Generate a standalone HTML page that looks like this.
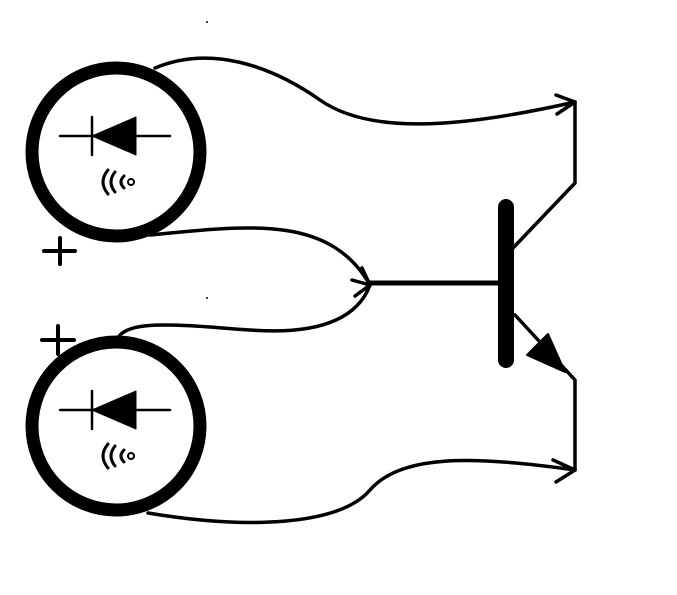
<!DOCTYPE html>
<html><head><meta charset="utf-8"><style>html,body{margin:0;padding:0;background:#fff}svg{display:block}</style></head>
<body>
<svg width="677" height="595" viewBox="0 0 677 595" xmlns="http://www.w3.org/2000/svg">
<rect width="677" height="595" fill="#fff"/>
<g fill="none" stroke="#000" stroke-linecap="round" stroke-linejoin="round">
  <g>
    <circle cx="116" cy="152" r="84" stroke-width="13"/>
    <line x1="60" y1="136" x2="170" y2="136" stroke-width="2.5"/>
    <line x1="92" y1="117" x2="92" y2="155" stroke-width="2.5"/>
    <polygon points="92,136 136,117 136,155" fill="#000" stroke-width="1"/>
    <path d="M108,170 Q98,182 108,194 M115,172 Q107,182 115,192 M124,176 Q118,182 124,188" stroke-width="3"/>
    <circle cx="131" cy="182" r="3" stroke-width="2"/>
  </g>
  <g>
    <circle cx="116" cy="426" r="84" stroke-width="13"/>
    <line x1="60" y1="410" x2="170" y2="410" stroke-width="2.5"/>
    <line x1="92" y1="391" x2="92" y2="429" stroke-width="2.5"/>
    <polygon points="92,410 136,391 136,429" fill="#000" stroke-width="1"/>
    <path d="M108,444 Q98,456 108,468 M115,446 Q107,456 115,466 M124,450 Q118,456 124,462" stroke-width="3"/>
    <circle cx="131" cy="456" r="3" stroke-width="2"/>
  </g>
  <g stroke-width="4">
    <path d="M44,251 H75 M60,238 V264"/>
    <path d="M42,340 H74 M58,326 V354"/>
  </g>
  <g stroke-width="3.5">
    <path d="M155,68 C210,45 270,65 320,100 C370,135 460,128 575,102"/>
    <path d="M556,95 L575,102 L557,114"/>
    <path d="M150,235 C250,225 330,215 370,285"/>
    <path d="M118,338 C128,318 190,326 250,330 C330,336 360,312 370,285"/>
    <path d="M352,280 L370,285 M362,268 L370,285 M355,296 L370,285"/>
    <path d="M148,513 C250,530 340,525 370,490 C400,455 470,455 575,470"/>
    <path d="M553,460 L575,470 L556,482"/>
    <path d="M575,102 V183 L513,248"/>
    <path d="M515,315 L575,380 V470"/>
  </g>
  <line x1="370" y1="283" x2="505" y2="283" stroke-width="5"/>
  <line x1="506" y1="207" x2="506" y2="360" stroke-width="16"/>
  <polygon points="527,355 548,334 565,372" fill="#000" stroke-width="2"/>
</g>
<circle cx="207" cy="22" r="1" fill="#000"/>
<circle cx="207" cy="298" r="1" fill="#000"/>
</svg>
</body></html>
